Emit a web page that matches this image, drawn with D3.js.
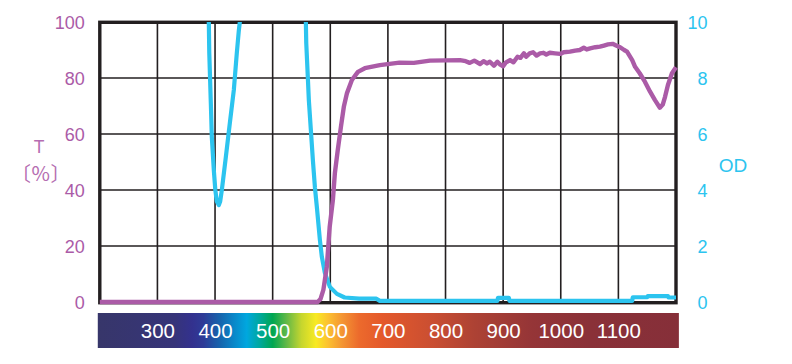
<!DOCTYPE html>
<html><head><meta charset="utf-8">
<script src="https://cdn.jsdelivr.net/npm/d3@7"></script>
<style>body{margin:0;background:#fff} svg{display:block}</style>
</head><body><svg id="c" width="792" height="364"></svg>
<script>
// Transmittance (%) vs wavelength (nm)
const tWavelength = [200,560,578,583,588,594,599,604.5,608,613,618.5,623.5,629,637.5,648,660,686,720,745,773,800,825,835,842,850,860,866,872,877,884,890,895,900,905,912,918,925,930,936,940,946,952,958,964,970,975,981,990,999,1005,1016,1025,1033,1040,1045,1051,1060,1068,1075,1082,1090,1096,1103,1110,1115,1124,1129,1137,1146,1155,1163.5,1172,1177,1181,1186,1193,1200];
const tPercent    = [0,0,0,1,4.3,12.6,26.9,36.4,46.1,54.3,62.6,69.7,74.6,79.3,82.2,83.5,84.6,85.5,85.4,86.2,86.3,86.4,86.0,85.4,86.2,85.0,86.0,85.2,85.8,84.4,85.8,84.8,84.2,85.6,86.4,85.6,87.6,87.2,88.8,87.6,88.8,89.2,88.0,88.8,89.0,88.4,89.0,88.8,88.6,89.2,89.4,89.8,90.0,90.8,90.2,90.6,91.0,91.2,91.6,92.0,92.2,91.6,91.0,90.0,89.4,86.4,84.0,81.7,78.7,75.1,72.1,69.4,70.5,73.3,77.5,81.7,83.8];
// Optical density vs wavelength (nm)
const odWavelength = [388,389.2,390,392.7,394.4,397.9,400.5,403,406.6,409,411.8,418.75,425.7,432.6,437.8,441.3,443,445,556,557.6,558.3,561,562.8,566.3,569.8,573.3,576.7,582,585.4,590.6,599.3,611.5,625,650,680,686,800,890,891,910,911,1000,1124,1125,1150,1151,1186,1187,1200];
const odValue      = [11,10,8.9,7.1,5.9,4.7,4.0,3.6,3.46,3.6,4.0,5.18,6.39,7.57,8.9,9.7,10,11,11,10,9.25,8.04,7.21,6.14,5.07,4.1,3.39,2.21,1.61,1.04,0.54,0.29,0.16,0.12,0.12,0.04,0.04,0.04,0.15,0.15,0.04,0.04,0.04,0.17,0.17,0.21,0.21,0.16,0.16];

const gridWavelengths = [300,400,500,600,700,800,900,1000,1100];
const leftTicks  = [0,20,40,60,80,100];
const rightTicks = [0,2,4,6,8,10];
const bandLabels = [300,400,500,600,700,800,900,1000,1100];

const spectrumStops = [
  [196,"#37366a"],[330,"#363479"],[360,"#33318e"],[380,"#2e3b97"],[410,"#1566ae"],[432,"#0a86c8"],[455,"#00a7df"],
  [478,"#00a89c"],[500,"#00a651"],[525,"#66b946"],[550,"#c6d62e"],[575,"#f8ea22"],[595,"#fcc330"],[620,"#f49633"],
  [650,"#ec6a2c"],[690,"#e4592b"],[780,"#c94e32"],[850,"#ad4234"],[950,"#953537"],[1050,"#8a3138"],[1205,"#862f39"]
];

const PURPLE = "#ab5ba7", CYAN = "#2cc4ef", DARK = "#231f20";

const svg = d3.select("#c");
const x = d3.scaleLinear().domain([200,1200]).range([99.8,676]);
const yT = d3.scaleLinear().domain([0,100]).range([302,22]);
const yOD = d3.scaleLinear().domain([0,10]).range([302,22]);

const defs = svg.append("defs");
const bandLo = 196.5, bandHi = 1205;
const grad = defs.append("linearGradient").attr("id","spec")
  .attr("gradientUnits","userSpaceOnUse")
  .attr("x1",x(bandLo)).attr("x2",x(bandHi)).attr("y1",0).attr("y2",0);
grad.selectAll("stop").data(spectrumStops).join("stop")
  .attr("offset",d=>Math.max(0,Math.min(1,(d[0]-bandLo)/(bandHi-bandLo))))
  .attr("stop-color",d=>d[1]);
defs.append("clipPath").attr("id","plotclip").append("rect")
  .attr("x",x(200)-3).attr("y",yT(100)).attr("width",x(1200)-x(200)+6).attr("height",yT(0)-yT(100)+6);

// spectrum band
svg.append("rect").attr("x",x(bandLo)).attr("y",313).attr("width",x(bandHi)-x(bandLo)).attr("height",35).attr("fill","url(#spec)");

// grid
svg.append("g").selectAll("line").data(gridWavelengths).join("line")
  .attr("x1",d=>x(d)).attr("x2",d=>x(d)).attr("y1",yT(100)).attr("y2",yT(0))
  .attr("stroke",DARK).attr("stroke-width",1.6);
svg.append("g").selectAll("line").data(leftTicks.filter(d=>d>0&&d<100)).join("line")
  .attr("x1",x(200)).attr("x2",x(1200)).attr("y1",d=>yT(d)).attr("y2",d=>yT(d))
  .attr("stroke",DARK).attr("stroke-width",1.6);
// frame
svg.append("rect").attr("x",x(200)).attr("y",yT(100)+0.3).attr("width",x(1200)-x(200)).attr("height",yT(0)-yT(100)+0.4)
  .attr("fill","none").attr("stroke",DARK).attr("stroke-width",3.4);

// curves
const gC = svg.append("g").attr("clip-path","url(#plotclip)");
const lineT = d3.line().x(d=>x(d[0])).y(d=>yT(d[1]));
const lineOD = d3.line().x(d=>x(d[0])).y(d=>yOD(d[1]));
gC.append("path").datum(odWavelength.map((w,i)=>[w,odValue[i]])).attr("d",lineOD)
  .attr("fill","none").attr("stroke",CYAN).attr("stroke-width",4.2).attr("stroke-linejoin","round");
gC.append("path").datum(tWavelength.map((w,i)=>[w,tPercent[i]])).attr("d",lineT)
  .attr("fill","none").attr("stroke",PURPLE).attr("stroke-width",4.4).attr("stroke-linejoin","round");

// axes
const font = "'Liberation Sans', Arial, Helvetica, sans-serif";
const ax1 = svg.append("g").attr("transform",`translate(${x(200)},0)`)
  .call(d3.axisLeft(yT).tickValues(leftTicks).tickSize(0).tickPadding(15).tickFormat(d3.format("d")));
ax1.select(".domain").remove();
ax1.selectAll("text").attr("fill",PURPLE).style("font-family",font).style("font-size","18px").attr("dy","0.36em");

const ax2 = svg.append("g").attr("transform",`translate(${x(1200)},0)`)
  .call(d3.axisRight(yOD).tickValues(rightTicks).tickSize(0).tickPadding(0).tickFormat(d3.format("d")));
ax2.select(".domain").remove();
ax2.selectAll("text").attr("fill",CYAN).attr("x",31.5).attr("text-anchor","end").style("font-family",font).style("font-size","18px").attr("dy","0.36em");

const ax3 = svg.append("g").attr("transform","translate(0,313)")
  .call(d3.axisBottom(x).tickValues(bandLabels).tickSize(0).tickPadding(10).tickFormat(d3.format("d")));
ax3.select(".domain").remove();
ax3.selectAll("text").attr("fill","#ffffff").style("font-family",font).style("font-size","20.5px");

// axis titles
svg.append("text").attr("x",39).attr("y",153).attr("text-anchor","middle").attr("fill","#b56db1")
  .style("font-family",font).style("font-size","17.5px").text("T");
svg.append("text").attr("x",41).attr("y",180.5).attr("text-anchor","middle").attr("fill","#b56db1")
  .style("font-family","'Noto Sans CJK JP', sans-serif").style("font-size","20px").style("letter-spacing","0.5px").text("〔%〕");
svg.append("text").attr("x",733).attr("y",172).attr("text-anchor","middle").attr("fill",CYAN)
  .style("font-family",font).style("font-size","19px").text("OD");
</script></body></html>
